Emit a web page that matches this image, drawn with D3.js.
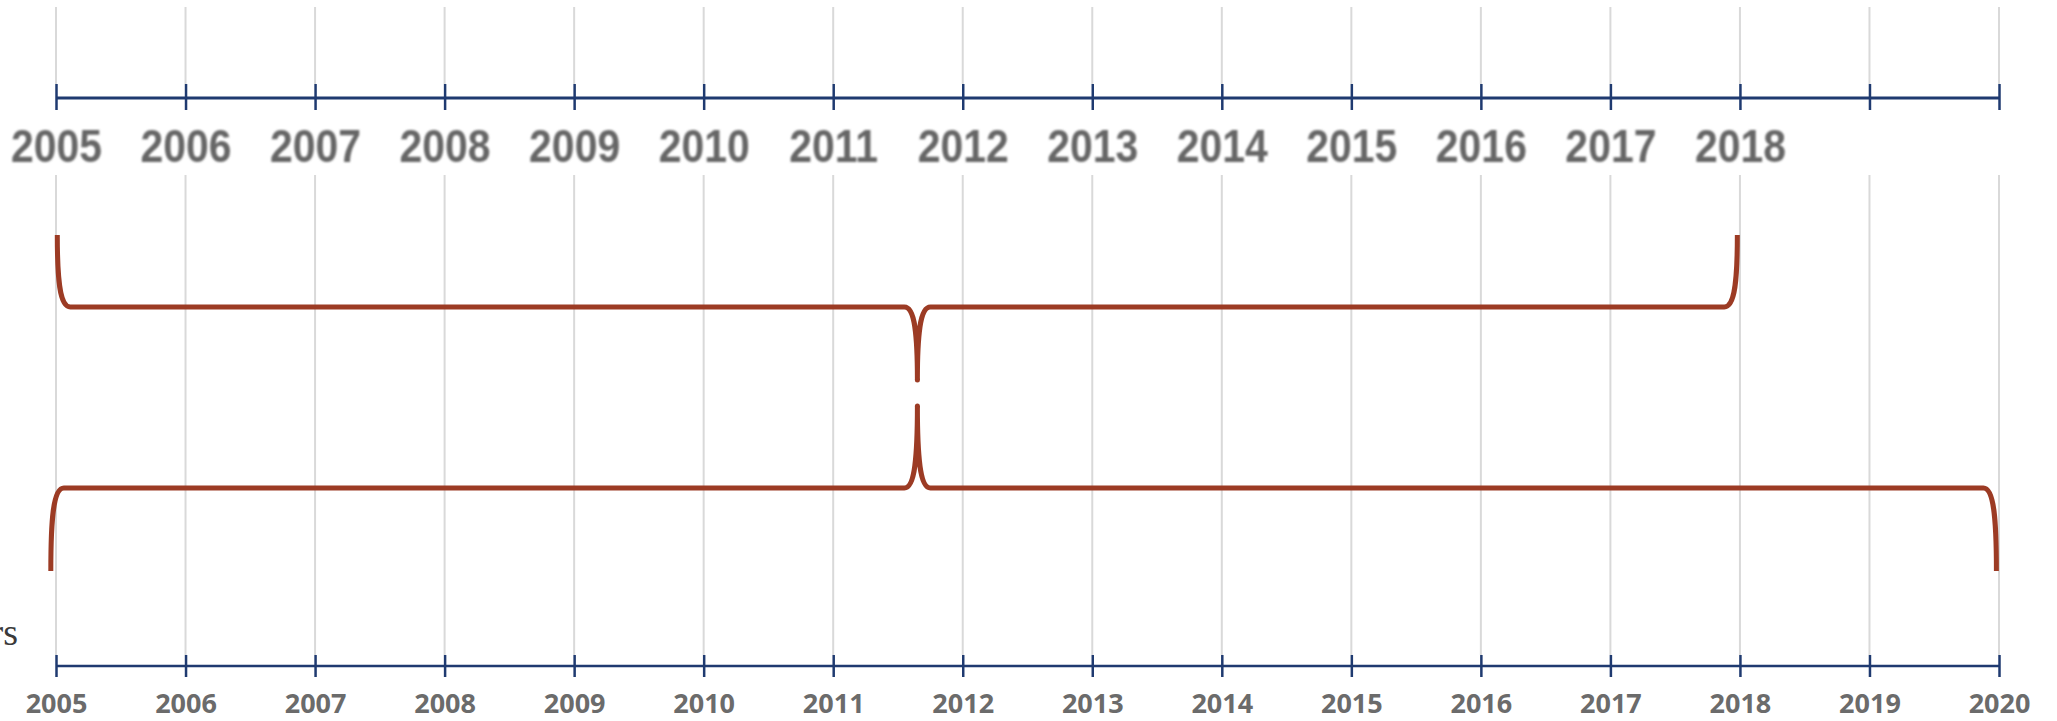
<!DOCTYPE html>
<html>
<head>
<meta charset="utf-8">
<script src="https://cdn.jsdelivr.net/npm/d3@7/dist/d3.min.js"></script>
<style>
html,body{margin:0;padding:0;background:#fff;}
svg{display:block;}
</style>
</head>
<body>
<svg id="chart" width="2057" height="721"></svg>
<script>
// ---- data ----
const years = [2005,2006,2007,2008,2009,2010,2011,2012,2013,2014,2015,2016,2017,2018,2019,2020];
const topTickLabels = ["2005","2006","2007","2008","2009","2010","2011","2012","2013","2014","2015","2016","2017","2018"];
const bottomTickLabels = ["2005","2006","2007","2008","2009","2010","2011","2012","2013","2014","2015","2016","2017","2018","2019","2020"];
const braceNames = ["upper","lower"];
const braceStart = [2005.01, 2004.96];
const braceEnd = [2017.98, 2019.98];
const braceTip = [2011.65, 2011.65];
const sideLabel = "Years";

// ---- layout ----
const W = 2057, H = 721;
const svg = d3.select("#chart");
const x = d3.scaleLinear().domain([2005, 2020]).range([56, 1999]);

const gridColor = "#d9d9d9";
const axisColor = "#1f3a70";
const braceColor = "#9c3b24";

// blur filter for the (upscaled-looking) top section
const defs = svg.append("defs");
defs.append("filter").attr("id","soft").append("feGaussianBlur").attr("stdDeviation",0.9);

// grid lines (two segments)
const grid = svg.append("g");
[[7, 84], [175, 655]].forEach(([y1, y2]) => {
  grid.selectAll(null).data(years).enter().append("line")
    .attr("x1", d => x(d)).attr("x2", d => x(d))
    .attr("y1", y1).attr("y2", y2)
    .attr("stroke", gridColor).attr("stroke-width", 2);
});

// top axis
const topAxisY = 98;
const topAxis = d3.axisBottom(x)
  .tickValues(years)
  .tickSizeOuter(0)
  .tickFormat((d, i) => topTickLabels[i] || "");
const gTop = svg.append("g").attr("transform", `translate(0,${topAxisY})`).call(topAxis);
gTop.select(".domain").attr("stroke", axisColor).attr("stroke-width", 3).attr("d", `M${x(2005)},0H${x(2020)}`);
gTop.selectAll(".tick line").attr("stroke", axisColor).attr("stroke-width", 2.5).attr("y1", -14).attr("y2", 12);
gTop.selectAll(".tick text")
  .attr("y", 64).attr("dy", 0)
  .attr("transform", "scale(0.89,1)")
  .attr("filter", "url(#soft)")
  .attr("fill", "#666666")
  .style("font-family", "'Liberation Sans', Arial, sans-serif")
  .style("font-weight", "bold")
  .style("font-size", "46px");

// bottom axis
const botAxisY = 666;
const botAxis = d3.axisBottom(x)
  .tickValues(years)
  .tickSizeOuter(0)
  .tickFormat((d, i) => bottomTickLabels[i]);
const gBot = svg.append("g").attr("transform", `translate(0,${botAxisY})`).call(botAxis);
gBot.select(".domain").attr("stroke", axisColor).attr("stroke-width", 2.5).attr("d", `M${x(2005)},0H${x(2020)}`);
gBot.selectAll(".tick line").attr("stroke", axisColor).attr("stroke-width", 2.5).attr("y1", -11).attr("y2", 11);
gBot.selectAll(".tick text")
  .attr("y", 47).attr("dy", 0)
  .attr("fill", "#6b6b6b")
  .style("font-family", "'Open Sans', sans-serif")
  .style("font-weight", "bold")
  .style("font-size", "27px");

// side label (clipped at the left edge)
svg.append("text")
  .attr("x", 18).attr("y", 645)
  .attr("text-anchor", "end")
  .attr("fill", "#3a3a3a")
  .style("font-family", "'Liberation Serif', 'Times New Roman', serif")
  .style("font-size", "38px")
  .text(sideLabel);

// braces
const braceGeom = [
  {yOuter: 235, yH: 307, yTip: 380},
  {yOuter: 571, yH: 488, yTip: 406}
];
const w = 13;
function bracePath(x0, x1, xt, g) {
  const {yOuter, yH, yTip} = g;
  const dO = yH - yOuter, dT = yTip - yH;
  const p = d3.path();
  p.moveTo(x0, yOuter);
  p.bezierCurveTo(x0, yOuter + 0.6 * dO, x0 + 2, yH, x0 + w, yH);
  p.lineTo(xt - w, yH);
  p.bezierCurveTo(xt - 2, yH, xt, yH + 0.4 * dT, xt, yTip);
  p.moveTo(xt, yTip);
  p.bezierCurveTo(xt, yH + 0.4 * dT, xt + 2, yH, xt + w, yH);
  p.lineTo(x1 - w, yH);
  p.bezierCurveTo(x1 - 2, yH, x1, yOuter + 0.6 * dO, x1, yOuter);
  return p.toString();
}
const gB = svg.append("g");
braceNames.forEach((name, i) => {
  gB.append("path")
    .attr("d", bracePath(x(braceStart[i]), x(braceEnd[i]), x(braceTip[i]), braceGeom[i]))
    .attr("fill", "none")
    .attr("stroke", braceColor)
    .attr("stroke-width", 5);
  gB.append("circle")
    .attr("cx", x(braceTip[i])).attr("cy", braceGeom[i].yTip)
    .attr("r", 2.5).attr("fill", braceColor);
});
</script>
</body>
</html>
